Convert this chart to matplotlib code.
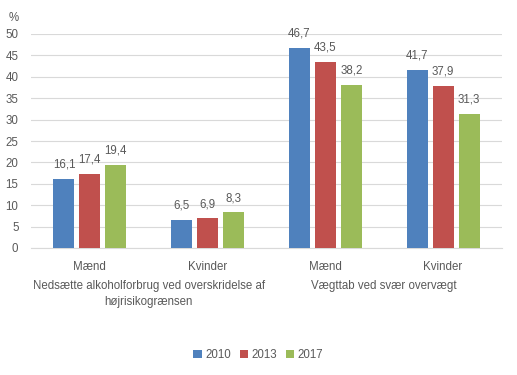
import matplotlib
matplotlib.use("Agg")
import matplotlib.pyplot as plt
import numpy as np

categories = ["Mænd", "Kvinder", "Mænd", "Kvinder"]
groups = ["Nedsætte alkoholforbrug ved overskridelse af\nhøjrisikogrænsen", "Vægttab ved svær overvægt"]
years = ["2010", "2013", "2017"]
v2010 = [16.1, 6.5, 46.7, 41.7]
v2013 = [17.4, 6.9, 43.5, 37.9]
v2017 = [19.4, 8.3, 38.2, 31.3]
colors = ["#4F81BD", "#C0504D", "#9BBB59"]
txt = "#595959"
fs = 8.3

plt.rcParams['font.family'] = ['Liberation Sans', 'DejaVu Sans']

fig = plt.figure(figsize=(5.17, 3.75), dpi=100)
ax = fig.add_axes([31/517, 1-248/375, 471/517, 214/375])

x = np.arange(len(categories))
w = 0.178
off = 0.22
for i, (vals, c, lab) in enumerate(zip([v2010, v2013, v2017], colors, years)):
    pos = x + (i-1)*off
    ax.bar(pos, vals, w, color=c, label=lab, zorder=3)
    for p, v in zip(pos, vals):
        ax.annotate(f"{v:.1f}".replace(".", ","), (p, v), xytext=(0, 6),
                    textcoords="offset points", ha="center", va="bottom",
                    fontsize=fs, color=txt)

ax.set_xlim(-0.5, 3.5)
ax.set_ylim(0, 50)
ax.set_yticks(range(0, 51, 5))
ax.yaxis.grid(True, color="#D9D9D9", linewidth=0.8, zorder=0)
ax.set_axisbelow(True)
for s in ["top", "right", "left"]:
    ax.spines[s].set_visible(False)
ax.spines["bottom"].set_color("#D9D9D9")
ax.tick_params(axis="both", length=0, labelsize=fs, colors=txt)
ax.tick_params(axis="y", pad=9)
ax.set_xticks(x)
ax.set_xticklabels(categories)
ax.tick_params(axis="x", pad=9)

fig.text(14/517, 1-18/375, "%", fontsize=fs, color=txt, ha="center", va="center")
for gi, g in enumerate(groups):
    cx = (x[2*gi] + x[2*gi+1]) / 2
    ax.text(cx, -0.15, g, transform=ax.get_xaxis_transform(), ha="center", va="top",
            fontsize=fs, color=txt, linespacing=1.4)

handles, labels = ax.get_legend_handles_labels()
fig.legend(handles, labels, loc="center", bbox_to_anchor=(0.5, 1-355/375), ncol=3,
           frameon=False, fontsize=fs, labelcolor=txt, handlelength=0.7, handleheight=0.7,
           handletextpad=0.3, columnspacing=0.8)

fig.savefig("out.png", dpi=100)
